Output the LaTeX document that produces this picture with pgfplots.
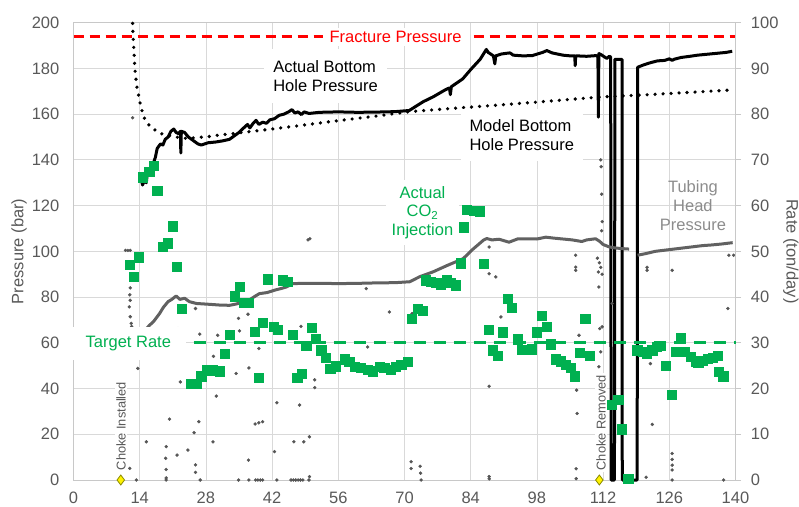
\documentclass[border=0pt]{standalone}
\usepackage{pgfplots}
\pgfplotsset{compat=1.18}
\usepackage{fontspec}
\setmainfont{Liberation Sans}
\definecolor{gridgray}{HTML}{D9D9D9}
\definecolor{axisgray}{HTML}{C8C8C8}
\definecolor{labelgray}{HTML}{595959}
\definecolor{dotgray}{HTML}{555555}
\definecolor{linegray}{HTML}{616161}
\definecolor{tubtext}{HTML}{8C8C8C}
\definecolor{cogreen}{HTML}{00B050}
\definecolor{frred}{HTML}{FF0000}
\definecolor{dmdedge}{HTML}{8A8A00}
\newcommand\tfont{\fontsize{16.5}{19.5}\selectfont}
\newcommand\sfont{\fontsize{12.8}{15}\selectfont}
\begin{document}
\begin{tikzpicture}
\begin{axis}[
  at={(73.5pt,26pt)}, anchor=south west, scale only axis,
  width=662pt, height=457.3pt,
  xmin=0, xmax=140, ymin=0, ymax=200,
  xtick={0,14,...,140}, ytick={0,20,...,200},
  grid=major, grid style={color=gridgray, line width=0.8pt},
  axis line style={color=axisgray, line width=0.8pt},
  major tick length=0pt,
  tick label style={font=\tfont, text=labelgray},
  /pgf/number format/assume math mode=true,
  yticklabel style={anchor=east, inner sep=0pt, xshift=-14pt},
  xticklabel style={anchor=north, inner sep=0pt, yshift=-12pt},
  ylabel={Pressure (bar)},
  ylabel style={at={(axis description cs:-0.0823,0.5)}, anchor=center, font=\tfont, text=labelgray},
  clip=false, unbounded coords=jump,
]
% Actual bottom hole pressure
\addplot[black, line width=3pt, line join=round] coordinates {
(14.2,133)(14.6,129)(15.0,131)(15.4,130)(15.6,134)(16.2,135)(16.8,138)(17.3,141)(17.7,145)(18.4,147)(18.9,146.5)(19.4,149)(20.0,150)(20.6,152.5)(21.2,153.5)(21.7,152)(22.2,151.5)(22.6,152.5)(22.7,143)(22.8,152.5)(23.5,152)(24.3,150)(25.3,148.5)(26.3,147)(27.0,146.5)(28.5,147.5)(30,147.8)(31.5,148.3)(33,149)(34,150.5)(35,152)(36,154)(36.8,155.5)(37.3,154)(38,156)(38.6,157.3)(39.2,155.5)(40,156.5)(40.8,156)(41.5,157.5)(42.5,158)(43.5,159.5)(44.5,160)(45.5,161)(46.2,162)(46.8,160.5)(47.5,161)(48.2,159.8)(48.8,161)(49.8,160.3)(52,160.8)(56,161)(60,160.8)(64,160.9)(68,161.1)(71,161.6)(72.3,163.3)(74,165.5)(76,167.5)(78.5,170.5)(79.5,171.5)(79.7,168.5)(79.9,172)(82.3,175.4)(84,179.5)(86,184)(87.3,188.3)(87.7,187)(88.3,186.2)(88.8,185.5)(89.1,182)(89.3,185.5)(90.5,186.3)(91.5,186.6)(92.3,186.8)(93,185.8)(95,185.5)(97,185.6)(99.2,187)(100.1,187.8)(101.2,186.8)(102.1,186.4)(103.5,185.8)(105,185.5)(106,185.5)(106.1,181.2)(106.2,185.5)(107.5,185.4)(108.5,185.3)(110.5,185.6)(110.9,185.3)(111.0,158.7)(111.1,186.5)(111.6,186)(112.3,185)(112.8,184.4)(113.3,185.3)(113.6,185)(113.7,0)(114.4,0)(114.5,184)(116,184)(116.05,0)(119.2,0)(119.3,180.5)(120.5,181.5)(122,182.5)(123.5,183.3)(125,183.5)(126,184.2)(126.6,183.5)(127,184)(128.5,184.8)(130,185.2)(132,185.8)(134,186.2)(136,186.6)(138,187)(139.3,187.5)
};
% Model bottom hole pressure
\addplot[black, line width=3.6pt, line cap=round, dash pattern=on 0pt off 8pt] coordinates {
(12.5,199.7)(12.6,194)(13.0,179.3)(13.4,172)(14.1,164.7)(14.8,158.9)(16.2,154.5)(18.3,151.6)(21.1,150.1)(23.9,149.4)(28.2,150.1)(31,150.9)(35,151.8)(42,153.5)(49,155.3)(54.2,156.7)(63,158.9)(71.2,161.1)(80,162.5)(89.4,163.9)(100,165.6)(112,167.6)(120.5,168.4)(130,169.5)(139.5,170.6)
};
% Tubing head pressure
\addplot[linegray, line width=3pt, line join=round] coordinates {
(15.1,65.5)(16,67.5)(17,69.5)(18.2,72.8)(19,75.5)(20,78)(20.8,79)(21.7,80.5)(22.5,79)(23.5,79.5)(24.5,78)(26,77.2)(27.5,77)(29,76.8)(31,76.5)(33,76.4)(34.5,77)(35.8,77.9)(37,78.5)(38.5,80.5)(39.3,81.5)(41,82)(42.5,83)(44,83.8)(45,84.4)(46.4,85.9)(49,86)(52,86)(56.2,85.9)(60,86)(64,86.2)(68,86.3)(71.1,86.7)(73.2,88.9)(76,91)(79,93.8)(82.4,96.8)(84.5,101)(86.7,104.9)(87.4,105.6)(88.5,105)(90,105.3)(92.1,104)(94,105.5)(96,105.5)(98,105.4)(99.9,106.2)(101.5,105.8)(103.5,105.4)(105.5,105)(107.5,104.3)(108.5,105)(110.4,105.5)(111.2,104.5)(112,103)(113.2,102)(114.5,101.5)(116,101.2)(117.5,101)(118,nan)(119.3,98.3)(121,99)(123,100)(125,100.5)(127,101)(129,101.5)(131,102)(133,102.5)(135,102.8)(137,103.2)(139.4,103.8)
};
% Scattered tubing head readings
\addplot[only marks, mark=*, mark size=1.5pt, dotgray] coordinates {
(11.0,100.4)(11.5,100.4)(12.0,100.4)(12.5,158.4)(12.0,84)(11.9,81)(12.0,78.6)(11.8,75.7)(12.0,71.4)(12.2,68.5)(12.3,67.1)(13.6,48.8)(15.4,16.7)(11.9,5.1)(13.3,0)(19.6,14.6)(19.5,9.5)(19.6,4.6)(19.6,0.9)(19.6,0)(20.3,26.6)(21.9,10.9)(22.1,66.2)(22.6,42.9)(24.2,13.1)(25.5,20.7)(25.8,6.6)(25.8,3.3)(26.8,0)(25.8,75)(26.5,25.5)(26.7,63.8)(29.6,54.1)(30.2,36.7)(29.5,16.7)(30.5,63.3)(34.4,46.6)(34.9,70.7)(35.1,65.2)(37.1,49)(37,8.7)(34.9,0)(37.1,0)(36.9,72.5)(38.4,24.5)(39.2,25)(40,25.5)(39.2,57.5)(38.5,0)(39,0)(39.5,0)(40,0)(42.5,12.4)(43,33.8)(43,0)(46.6,16.7)(48.7,16.7)(47.8,32.8)(49.9,18.9)(46,0)(46.5,0)(47,0)(47.5,0)(48,0)(48.5,0)(49.8,0)(49.9,1.5)(51,43.8)(51,40.4)(48.1,67.2)(49.6,105)(50.0,105.5)(61.9,83.7)(66.8,73.5)(62.2,58.2)(71.4,8)(71.4,5)(73.3,6)(73.4,3)(73.5,0)(71.6,72.8)(87.9,101.9)(87.9,90.2)(89.3,88.8)(87.9,41)(87.9,0.5)(87.9,1.5)(90.4,71.3)(106.2,98.3)(106.2,93.1)(106.2,91.7)(106.9,63.3)(106.4,39.3)(106.5,29.1)(106.3,4.9)(106.3,0.6)(110.8,97)(111.2,95)(111.5,93)(111.0,91)(111.8,90)(111.1,84.4)(111.8,67)(111.1,49.5)(111.5,140)(111.6,137)(111.7,125)(111.8,113)(111.7,109)(111.3,66.2)(111.5,56)(113.9,77.2)(121.3,93)(121.3,91.7)(126.6,91.7)(122,50.9)(122.4,24.3)(121.1,1.2)(126.6,11.6)(126.6,9)(126.6,6.5)(126.6,4.4)(126.6,0)(138.6,98.3)(139.6,98.3)(138.4,75)(137.5,0)
};
% Fracture pressure
\addplot[frred, line width=3.2pt, dash pattern=on 10pt off 6pt] coordinates {(0,193.8)(140,193.8)};
% Choke markers
\addplot[only marks, mark=diamond*, mark size=5pt, mark options={fill=yellow, draw=dmdedge, line width=0.8pt}] coordinates {(10,0)(111.2,0)};
% Labels
\node[fill=white, inner xsep=7pt, inner ysep=3pt, font=\tfont, text=frred] at (68.1,193.7) {Fracture Pressure};
\node[fill=white, inner xsep=9pt, inner ysep=11pt, font=\tfont, align=left] at (53.3,176.6) {Actual Bottom\\Hole Pressure};
\node[fill=white, inner xsep=9pt, inner ysep=10pt, font=\tfont, align=left] at (94.8,150.9) {Model Bottom\\Hole Pressure};
\node[fill=white, inner sep=6pt, font=\tfont, text=cogreen, align=center, execute at begin node=\setlength{\baselineskip}{18.5pt}] at (73.8,117) {Actual\\CO\textsubscript{2}\\Injection};
\node[inner sep=2pt, font=\tfont, text=tubtext, align=center, execute at begin node=\setlength{\baselineskip}{19pt}] at (131,120) {Tubing\\Head\\Pressure};
\node[fill=white, inner sep=1.5pt, rotate=90, font=\sfont, text=labelgray] at (10.05,23.6) {Choke Installed};
\node[fill=white, inner sep=1.5pt, rotate=90, font=\sfont, text=labelgray] at (111.55,25.1) {Choke Removed};
\end{axis}
\begin{axis}[
  at={(73.5pt,26pt)}, anchor=south west, scale only axis,
  width=662pt, height=457.3pt,
  xmin=0, xmax=140, ymin=0, ymax=100,
  axis x line=none, axis y line*=right,
  ytick={0,10,...,100},
  axis line style={color=axisgray, line width=0.8pt},
  tick style={color=axisgray, line width=0.8pt},
  tick align=outside, major tick length=5.5pt,
  tick label style={font=\tfont, text=labelgray},
  /pgf/number format/assume math mode=true,
  yticklabel style={anchor=west, inner sep=0pt, xshift=9.7pt},
  ylabel={Rate (ton/day)},
  ylabel style={at={(axis description cs:1.0835,0.5)}, anchor=center, rotate=180, font=\tfont, text=labelgray},
  clip=false,
]
% Target rate
\addplot[cogreen, line width=3pt, dash pattern=on 12pt off 8pt] coordinates {(0,30)(140,30)};
\node[fill=white, inner xsep=15pt, inner ysep=9pt, font=\tfont, text=cogreen] at (11.6,29.8) {Target Rate};
% Actual CO2 injection rate
\addplot[only marks, mark=square*, mark size=4.6pt, cogreen] coordinates {
(11.9,47.1)(12.7,44.4)(13.8,48.7)(14.7,66.2)(16.0,67.5)(17.0,68.8)(17.7,63.2)(18.9,51.1)(20.0,51.8)(21.0,55.5)(21.9,46.6)(22.9,37.5)(24.9,21.1)(26.0,21.1)(27.0,22.7)(28.1,24)(29.5,24)(30.9,23.8)(32.0,27.7)(33.1,31.7)(34.1,40.2)(35.1,42.2)(36.0,38.8)(37.1,38.8)(38.3,32.5)(39.2,22.3)(40.0,34.4)(41.1,43.9)(42.3,33.5)(43.2,32.9)(44.3,43.7)(45.3,43.3)(46.4,31.7)(47.3,22.3)(48.3,23.3)(49.2,29.3)(50.3,33.3)(51.3,30.9)(52.4,28.4)(53.3,26.8)(54.3,24.4)(55.5,24.9)(57.3,26.4)(58.3,25.8)(59.4,24.7)(60.8,24.5)(62.2,24.2)(63.3,23.8)(64.7,24.7)(65.7,24.6)(67.1,24.2)(68.2,24.7)(69.3,25.3)(70.7,25.8)(71.6,35.2)(72.8,37.5)(73.8,37.1)(74.5,43.7)(75.6,43.3)(76.7,43.1)(77.7,42.8)(78.9,43.7)(79.8,43.1)(80.9,42.6)(81.9,47.4)(82.5,55.3)(83.2,59.1)(84.6,58.9)(85.9,58.8)(86.7,47.3)(87.8,32.8)(88.6,28.4)(89.7,27.1)(90.7,32.3)(91.9,39.7)(92.7,37.6)(93.9,30.8)(94.9,28.5)(95.9,28.5)(96.9,28.6)(97.9,32.3)(99.0,36)(100.0,33.5)(100.9,29.7)(102.0,26.4)(103.0,26)(104.1,25.3)(105.2,24.5)(106.0,22.7)(107.0,27.9)(108.2,35.2)(109.2,27.1)(113.9,16.4)(115.2,17.5)(116.0,11.1)(117.3,0.2)(119.2,28.4)(120.3,28)(121.3,27.7)(122.4,28.4)(123.4,29.1)(124.2,29.3)(125.3,25)(126.5,18.6)(127.3,28)(128.4,31.2)(129.3,28)(130.5,26.9)(131.5,26)(132.1,25.7)(133.1,26.1)(134.1,26.5)(135.2,26.8)(136.2,27.2)(136.5,23.6)(137.4,22.7)
};
\end{axis}
\pgfresetboundingbox
\useasboundingbox (0,0) rectangle (799pt,506pt);
\end{tikzpicture}
\end{document}
